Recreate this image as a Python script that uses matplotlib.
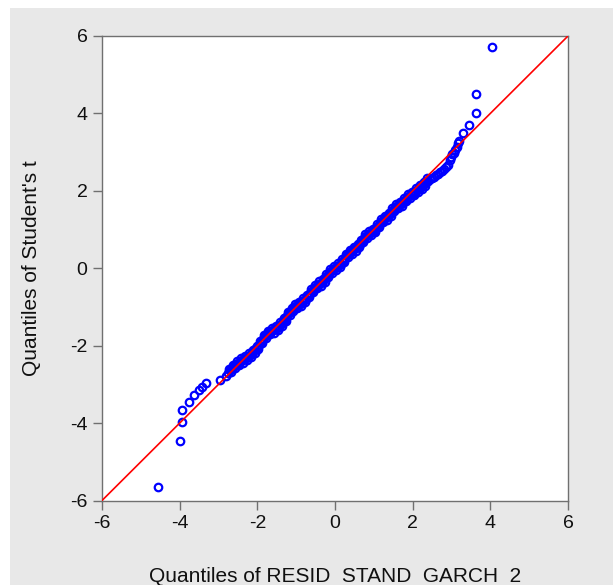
import matplotlib
matplotlib.use("Agg")
import matplotlib.pyplot as plt
from matplotlib.patches import Rectangle

plt.rcParams['font.family'] = ['Liberation Sans', 'DejaVu Sans']

# Lower tail (empirical quantile, theoretical quantile)
tail_lo_x = [-4.55, -4.00, -3.93, -3.94, -3.75, -3.64, -3.51, -3.43, -3.32, -2.95, -2.80]
tail_lo_y = [-5.65, -4.45, -3.97, -3.67, -3.46, -3.28, -3.15, -3.07, -2.97, -2.88, -2.79]

# Body of the distribution
body_x = [-2.75, -2.70, -2.65, -2.60, -2.55, -2.50, -2.45, -2.40, -2.35, -2.30,
          -2.25, -2.20, -2.15, -2.10, -2.05, -2.00, -1.95, -1.90, -1.85, -1.80,
          -1.75, -1.70, -1.65, -1.60, -1.55, -1.50, -1.45, -1.40, -1.35, -1.30,
          -1.25, -1.20, -1.15, -1.10, -1.05, -1.00, -0.95, -0.90, -0.85, -0.80,
          -0.75, -0.70, -0.65, -0.60, -0.55, -0.50, -0.45, -0.40, -0.35, -0.30,
          -0.25, -0.20, -0.15, -0.10, -0.05, 0.00, 0.05, 0.10, 0.15, 0.20,
          0.25, 0.30, 0.35, 0.40, 0.45, 0.50, 0.55, 0.60, 0.65, 0.70,
          0.75, 0.80, 0.85, 0.90, 0.95, 1.00, 1.05, 1.10, 1.15, 1.20,
          1.25, 1.30, 1.35, 1.40, 1.45, 1.50, 1.55, 1.60, 1.65, 1.70,
          1.75, 1.80, 1.85, 1.90, 1.95, 2.00, 2.05, 2.10, 2.15, 2.20,
          2.25, 2.30, 2.35, 2.40, 2.45, 2.50, 2.55, 2.60, 2.65, 2.70,
          2.75, 2.80, 2.85, 2.90, 2.95, 2.98, 3.02, 3.06, 3.10, 3.14,
          3.17, 3.19]
body_y = [-2.71, -2.64, -2.60, -2.53, -2.50, -2.44, -2.42, -2.38, -2.35, -2.32,
          -2.29, -2.25, -2.18, -2.16, -2.09, -2.05, -1.98, -1.91, -1.83, -1.76,
          -1.72, -1.65, -1.62, -1.60, -1.58, -1.55, -1.51, -1.44, -1.40, -1.33,
          -1.26, -1.18, -1.12, -1.08, -1.01, -0.98, -0.95, -0.92, -0.88, -0.82,
          -0.79, -0.72, -0.65, -0.58, -0.52, -0.49, -0.43, -0.40, -0.37, -0.33,
          -0.26, -0.19, -0.13, -0.07, -0.03, 0.01, 0.04, 0.08, 0.12, 0.19,
          0.26, 0.33, 0.37, 0.43, 0.46, 0.49, 0.53, 0.57, 0.63, 0.70,
          0.77, 0.83, 0.87, 0.90, 0.93, 0.97, 1.03, 1.10, 1.17, 1.23,
          1.27, 1.30, 1.33, 1.37, 1.44, 1.51, 1.57, 1.60, 1.63, 1.66,
          1.70, 1.77, 1.83, 1.86, 1.89, 1.92, 1.98, 2.01, 2.05, 2.08,
          2.14, 2.17, 2.23, 2.26, 2.30, 2.33, 2.37, 2.40, 2.44, 2.48,
          2.52, 2.56, 2.61, 2.68, 2.80, 2.87, 2.94, 2.99, 3.05, 3.14,
          3.23, 3.30]

# Further body observations lying between the ones above
body2_x = [-2.72, -2.67, -2.62, -2.57, -2.52, -2.47, -2.42, -2.37, -2.32, -2.27,
           -2.22, -2.17, -2.12, -2.07, -2.02, -1.97, -1.92, -1.87, -1.82, -1.77,
           -1.72, -1.67, -1.62, -1.57, -1.52, -1.47, -1.42, -1.37, -1.32, -1.27,
           -1.22, -1.17, -1.12, -1.07, -1.02, -0.97, -0.92, -0.87, -0.82, -0.77,
           -0.72, -0.67, -0.62, -0.57, -0.52, -0.47, -0.42, -0.37, -0.32, -0.27,
           -0.22, -0.17, -0.12, -0.07, -0.02, 0.03, 0.08, 0.13, 0.18, 0.23,
           0.28, 0.33, 0.38, 0.43, 0.48, 0.53, 0.58, 0.63, 0.68, 0.73,
           0.78, 0.83, 0.88, 0.93, 0.98, 1.03, 1.08, 1.13, 1.18, 1.23,
           1.28, 1.33, 1.38, 1.43, 1.48, 1.53, 1.58, 1.63, 1.68, 1.73,
           1.78, 1.83, 1.88, 1.93, 1.98, 2.03, 2.08, 2.13, 2.18, 2.23,
           2.28, 2.33, 2.38]
body2_y = [-2.60, -2.68, -2.49, -2.58, -2.40, -2.50, -2.33, -2.44, -2.27, -2.38,
           -2.20, -2.28, -2.10, -2.19, -2.00, -2.08, -1.87, -1.93, -1.72, -1.80,
           -1.61, -1.70, -1.54, -1.66, -1.49, -1.59, -1.40, -1.49, -1.29, -1.36,
           -1.14, -1.21, -1.03, -1.11, -0.92, -1.03, -0.86, -0.97, -0.77, -0.87,
           -0.68, -0.75, -0.54, -0.61, -0.43, -0.52, -0.34, -0.45, -0.28, -0.36,
           -0.15, -0.22, -0.02, -0.11, 0.07, -0.04, 0.13, 0.03, 0.23, 0.16,
           0.37, 0.29, 0.48, 0.38, 0.55, 0.44, 0.62, 0.54, 0.74, 0.67,
           0.88, 0.79, 0.96, 0.85, 1.02, 0.94, 1.14, 1.07, 1.28, 1.19,
           1.36, 1.25, 1.42, 1.34, 1.55, 1.48, 1.66, 1.55, 1.72, 1.61,
           1.81, 1.73, 1.92, 1.81, 1.98, 1.88, 2.07, 1.96, 2.14, 2.04,
           2.23, 2.13, 2.32]

# Upper tail
tail_hi_x = [3.29, 3.45, 3.63, 3.63, 4.04]
tail_hi_y = [3.49, 3.70, 4.01, 4.50, 5.72]

# Reference line endpoints
line_x = [-6, 6]
line_y = [-6, 6]

ticks = [-6, -4, -2, 0, 2, 4, 6]

W, H = 613, 585
fig = plt.figure(figsize=(W / 100, H / 100), dpi=100)
fig.patch.set_facecolor('white')
bg = Rectangle((10 / W, 0), 1 - 10 / W, 1 - 8 / H,
               transform=fig.transFigure, facecolor='#e8e8e8',
               edgecolor='none', zorder=-10)
fig.add_artist(bg)

ax = fig.add_axes([102 / W, 1 - 500.5 / H, (568 - 102) / W, (500.5 - 36) / H])
ax.set_zorder(1)
ax.set_facecolor('white')

ax.plot(line_x, line_y, color='#ff0000', lw=1.2, zorder=3)
xs = tail_lo_x + body_x + body2_x + tail_hi_x
ys = tail_lo_y + body_y + body2_y + tail_hi_y
ax.plot(xs, ys, linestyle='none', marker='o', markersize=5.4,
        markerfacecolor='none', markeredgecolor='#0000ff', markeredgewidth=1.6,
        zorder=2)

ax.set_xlim(-6, 6)
ax.set_ylim(-6, 6)
ax.set_xticks(ticks)
ax.set_yticks(ticks)
ax.set_xticklabels([str(t) for t in ticks])
ax.set_yticklabels([str(t) for t in ticks])

for side in ['top', 'right', 'bottom', 'left']:
    ax.spines[side].set_color('#707070')
    ax.spines[side].set_linewidth(1.0)
ax.tick_params(direction='out', length=6.5, width=1.0, color='#707070',
               labelsize=14, labelcolor='#101010', pad=4)

ax.set_xlabel("Quantiles of RESID  STAND  GARCH  2", fontsize=15, color='#101010',
              labelpad=25)
ax.set_ylabel("Quantiles of Student's t", fontsize=15, color='#101010', labelpad=21)

fig.savefig('out.png', dpi=100)
